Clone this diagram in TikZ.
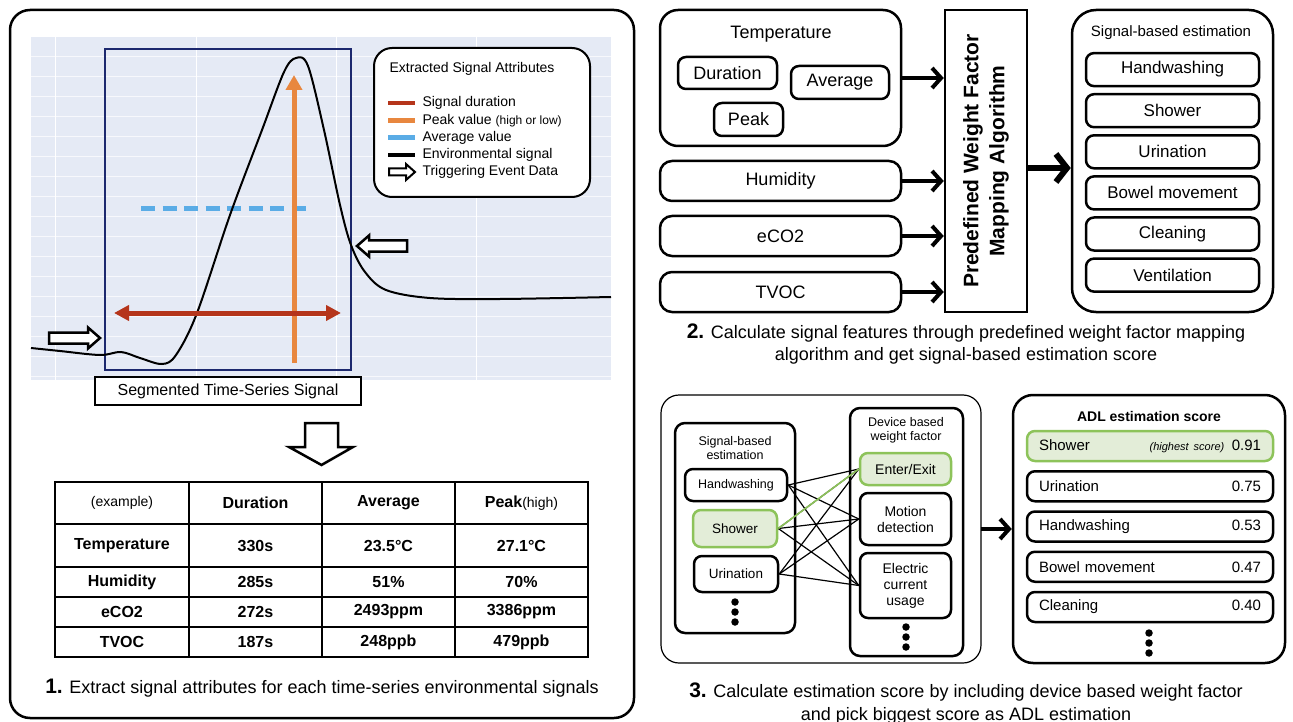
\documentclass[tikz,border=0pt]{standalone}
\usepackage{fontspec}
\setmainfont{Liberation Sans}
\usepackage{xcolor}
\definecolor{chartbg}{RGB}{229,234,245}
\definecolor{navy}{RGB}{28,40,110}
\definecolor{durred}{RGB}{181,53,27}
\definecolor{peakorange}{RGB}{232,135,63}
\definecolor{avgblue}{RGB}{90,172,230}
\definecolor{hilite}{RGB}{141,195,90}
\definecolor{hilitefill}{RGB}{227,237,216}
\usepackage{tikz}
\usetikzlibrary{arrows.meta}

\begin{document}
\begin{tikzpicture}[x=1pt, y=-1pt,
			fs/.style 2 args={font=\fontsize{#1}{#2}\selectfont},
			frame/.style={draw, line width=2.5pt, rounded corners=20pt},
			box/.style={draw, line width=2.5pt, rounded corners=8pt, inner sep=0pt, fill=white},
			hibox/.style={box, draw=hilite, fill=hilitefill},
			hollow/.style={draw, line width=2.5pt, fill=white, line join=miter},
			feed/.style={line width=4pt, -{Straight Barb[length=9pt,width=20pt]}},
			link/.style={line width=1.2pt},
			dot/.style={circle, fill, inner sep=0pt, minimum size=7.5pt},
			]
			\useasboundingbox (0,0) rectangle (1293,722);

			\draw[frame] (10,10) rectangle (634,718);
			\fill[chartbg] (31,37) rectangle (611,380);
			\foreach \gy in {56,76,...,376}
				\draw[white, line width=0.6pt, opacity=0.7] (31,\gy) -- (611,\gy);
			\foreach \gx in {55,196,336,476}
				\draw[white, line width=0.8pt] (\gx,37) -- (\gx,380);
			\draw[navy, line width=2pt] (104.5,49) rectangle (351,370);
			\draw[avgblue, line width=5pt, dash pattern=on 14pt off 7.5pt] (141,209) -- (308,209);
			\draw[line width=2pt] plot[smooth, tension=0.55] coordinates {(31,348) (60,351) (100,355) (121,352) (140,358) (162,364) (176,355) (197,313) (230,215) (262,130) (284,72) (296,58) (308,66) (324,130) (340,205) (351,245) (365,272) (386,290) (430,298) (500,299) (611,297)};
			\draw[peakorange, line width=5pt, -{Triangle[length=15pt,width=16pt]}] (294,363) -- (294,75);
			\draw[durred, line width=5pt, {Triangle[length=15pt,width=15pt]}-{Triangle[length=15pt,width=15pt]}] (114,313) -- (341,313);
			\draw[hollow] (49,332.5) -- (88,332.5) -- (88,327.5) -- (100,338) -- (88,348.5) -- (88,343.5) -- (49,343.5) -- cycle;
			\draw[hollow] (407,240.5) -- (369,240.5) -- (369,235.5) -- (357,246) -- (369,256.5) -- (369,251.5) -- (407,251.5) -- cycle;

			\node[draw, line width=2pt, fill=white, rounded corners=18pt, minimum width=216pt, minimum height=149pt] (legend) at (482,122.5) {};
			\node[fs={14}{16}, anchor=west] (legtitle) at (386,69) {Extracted Signal Attributes};
			\draw[durred, line width=4.5pt] (388,103) -- (415,103);
			\draw[peakorange, line width=4.5pt] (388,120.5) -- (415,120.5);
			\draw[avgblue, line width=4.5pt] (388,137.5) -- (415,137.5);
			\draw[line width=4.5pt] (388,155) -- (415,155);
			\draw[hollow, line width=2pt] (389,168.5) -- (406,168.5) -- (406,164) -- (415,172) -- (406,180) -- (406,175.5) -- (389,175.5) -- cycle;
			\node[fs={14}{16}, anchor=west] at (419,103) {Signal duration};
			\node[fs={14}{16}, anchor=west] at (419,120.5) {Peak value {\fontsize{12}{14}\selectfont(high or low)}};
			\node[fs={14}{16}, anchor=west] at (419,137.5) {Average value};
			\node[fs={14}{16}, anchor=west] at (419,155) {Environmental signal};
			\node[fs={14}{16}, anchor=west] at (419,172) {Triggering Event Data};

			\node[draw, line width=1.5pt, fill=white, fs={16}{18}, minimum width=266pt, minimum height=28pt] (segment) at (228,391) {Segmented Time-Series Signal};
			\draw[hollow] (305,423) -- (338,423) -- (338,447) -- (353,447) -- (321.5,465) -- (289,447) -- (305,447) -- cycle;

			\draw[line width=1.8pt] (55,482) rectangle (588,657);
			\foreach \cx in {189,322,455}
				\draw[line width=1.8pt] (\cx,482) -- (\cx,657);
			\foreach \ry in {524,567,597,627}
				\draw[line width=1.8pt] (55,\ry) -- (588,\ry);
			\tikzset{every node/.append style={fs={16}{18}}}
			\node at (122,503) {\fontsize{14}{16}\selectfont(example)};
			\node[font=\fontsize{16}{18}\selectfont\bfseries] at (255.5,503) {Duration};
			\node[font=\fontsize{16}{18}\selectfont\bfseries] at (388.5,503) {Average};
			\node at (521.5,503) {\textbf{Peak}{\fontsize{14}{16}\selectfont(high)}};
			\foreach \ry/\name/\dur/\avg/\peak in {545.5/Temperature/330s/23.5°C/27.1°C, 582/Humidity/285s/51\%/70\%, 612/eCO2/272s/2493ppm/3386ppm, 642/TVOC/187s/248ppb/479ppb} {
				\node[font=\fontsize{16}{18}\selectfont\bfseries] at (122,\ry) {\name};
				\node[font=\fontsize{16}{18}\selectfont\bfseries] at (255.5,\ry) {\dur};
				\node[font=\fontsize{16}{18}\selectfont\bfseries] at (388.5,\ry) {\avg};
				\node[font=\fontsize{16}{18}\selectfont\bfseries] at (521.5,\ry) {\peak};
			}
			\node[fs={18}{20}] (cap1) at (322,688) {{\fontsize{21}{21}\selectfont\bfseries 1.} Extract signal attributes for each time-series environmental signals};

			\tikzset{every node/.append style={fs={18}{20}}}
			\node[box, rounded corners=18pt, minimum width=241pt, minimum height=136pt] (temp) at (780.5,78) {};
			\node at (781,34) {Temperature};
			\node[box, minimum width=99pt, minimum height=32pt] (duration) at (727.5,73) {Duration};
			\node[box, minimum width=98pt, minimum height=33pt] (average) at (840,82.5) {Average};
			\node[box, minimum width=69pt, minimum height=33pt] (peak) at (748.5,119.5) {Peak};
			\node[box, rounded corners=12pt, minimum width=241pt, minimum height=40pt] (humidity) at (780.5,181) {Humidity};
			\node[box, rounded corners=12pt, minimum width=241pt, minimum height=40pt] (eco2) at (780.5,236) {eCO2};
			\node[box, rounded corners=12pt, minimum width=241pt, minimum height=40pt] (tvoc) at (780.5,292) {TVOC};
			\node[draw, line width=2.5pt, minimum width=82pt, minimum height=302pt] (algo) at (986,161) {};
			\node[rotate=90, align=center, font=\fontsize{21}{26}\selectfont\bfseries] at (algo.center) {Predefined Weight Factor\\Mapping Algorithm};
			\foreach \src in {temp,humidity,eco2,tvoc}
				\draw[feed] (\src.east) -- (\src.east -| algo.west);
			\node[box, rounded corners=24pt, minimum width=201pt, minimum height=302pt] (sigest) at (1172.5,161) {};
			\node[fs={15}{17}] at (1171,33) {Signal-based estimation};
			\foreach \act [count=\i] in {Handwashing,Shower,Urination,Bowel movement,Cleaning,Ventilation}
				\node[box, fs={17}{19}, minimum width=173pt, minimum height=33pt] (sig\i) at (1172.5,{28.5+41.1*\i}) {\act};
			\draw[line width=6pt, -{Straight Barb[length=11pt,width=28pt]}] ([yshift=-7pt]algo.east) -- ([yshift=-7pt]sigest.west);
			\node[align=center] (cap2) at (966,344) {{\fontsize{21}{21}\selectfont\bfseries 2.} Calculate signal features through predefined weight factor mapping\\[2pt]algorithm and get signal-based estimation score};

			\draw[line width=1.2pt, rounded corners=18pt] (661,395) rectangle (981,663);
			\node[box, rounded corners=10pt, minimum width=120pt, minimum height=210pt] (sigcol) at (735,528) {};
			\node[fs={12.5}{14.5}, align=center] at (735,448) {Signal-based\\estimation};
			\node[box, fs={12.5}{14}, minimum width=102pt, minimum height=32pt] (hw) at (736,485) {Handwashing};
			\node[hibox, fs={13.5}{15}, minimum width=84pt, minimum height=37pt] (sh) at (735,528.5) {Shower};
			\node[box, fs={13.5}{15}, minimum width=84pt, minimum height=36pt] (ur) at (736,574) {Urination};
			\foreach \dy in {602,612,622}
				\node[dot] at (735,\dy) {};
			\node[box, rounded corners=10pt, minimum width=113pt, minimum height=248pt] (devcol) at (906.5,532) {};
			\node[fs={12.5}{14.5}, align=center] at (906,430.5) {Device based\\weight factor};
			\node[hibox, fs={14}{16}, minimum width=91pt, minimum height=32pt] (ee) at (905.5,469) {Enter/Exit};
			\node[box, fs={14}{16}, align=center, minimum width=91pt, minimum height=52pt] (md) at (905.5,519) {Motion\\detection};
			\node[box, fs={14}{16}, align=center, minimum width=91pt, minimum height=65pt] (ec) at (905.5,585.5) {Electric\\current\\usage};
			\foreach \dy in {627,637,647}
				\node[dot] at (906,\dy) {};
			\foreach \s in {hw,sh,ur}
				\foreach \d in {ee,md,ec}
					\draw[link] (\s.east) -- (\d.west);
			\draw[link, hilite, line width=1.6pt] (sh.east) -- (ee.west);

			\node[box, rounded corners=20pt, minimum width=272pt, minimum height=268pt] (adl) at (1149,529) {};
			\draw[feed] (981,529) -- (adl.west);
			\node[font=\fontsize{14}{16}\selectfont\bfseries] at (1149,416) {ADL estimation score};
			\node[hibox, fs={15}{17}, text width=222pt, minimum height=30pt, inner xsep=12pt] (adl1) at (1150,446) {Shower\hfill{\fontsize{11}{13}\selectfont\itshape(highest score)}\enspace 0.91};
			\foreach \act/\score [count=\i from 2] in {Urination/0.75,Handwashing/0.53,Bowel movement/0.47,Cleaning/0.40}
				\node[box, fs={15}{17}, text width=222pt, minimum height=30pt, inner xsep=12pt] (adl\i) at (1150,{446+40.25*(\i-1)}) {\act\hfill\score};
			\foreach \dy in {633,643,653}
				\node[dot] at (1149,\dy) {};
			\node[align=center] (cap3) at (966,703.5) {{\fontsize{21}{21}\selectfont\bfseries 3.} Calculate estimation score by including device based weight factor\\[3pt]and pick biggest score as ADL estimation};

		\end{tikzpicture}
\end{document}
